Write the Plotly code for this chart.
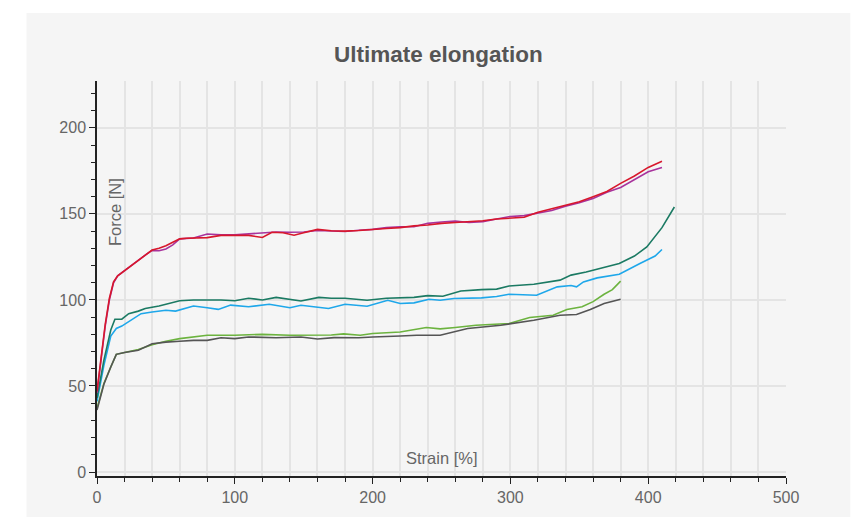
import plotly.graph_objects as go

# ---- data ----
red_x = [0, 3, 6, 9, 12, 15, 20, 25, 30, 35, 40, 45, 50, 55, 60, 65, 70, 80, 90, 100, 110, 120, 127, 135, 143, 150, 160, 170, 180, 190, 200, 210, 220, 230, 240, 250, 260, 270, 280, 290, 300, 310, 320, 330, 336, 350, 360, 370, 380, 390, 400, 410]
red_y = [47, 67, 86, 101, 110.5, 114, 117, 120.5, 123, 126, 129, 130, 131.5, 133.5, 135.5, 135.8, 136, 136.2, 137.5, 137.5, 137.5, 136.3, 139.3, 139.0, 137.6, 139, 141, 140.2, 140, 140.3, 140.7, 141.5, 142, 143, 143.5, 144.5, 145, 145.5, 146, 147, 147.5, 148, 151, 153, 154.1, 157, 160, 163, 167.7, 172, 177, 180.6]

mag_x = [0, 3, 6, 9, 12, 15, 20, 25, 30, 35, 40, 45, 50, 55, 60, 70, 80, 90, 100, 110, 120, 130, 140, 150, 160, 170, 180, 190, 200, 210, 220, 230, 240, 250, 260, 270, 280, 290, 300, 310, 320, 330, 340, 350, 360, 370, 380, 390, 400, 410]
mag_y = [46, 66, 85, 100, 110, 114, 117, 120.5, 123, 126, 128.8, 128.6, 129.6, 132, 135.5, 136, 138.3, 137.8, 137.8, 138.5, 139, 139.5, 139.3, 139.5, 140.3, 140, 139.8, 140.5, 141, 142, 142.5, 142.5, 144.5, 145.3, 145.8, 145, 145.5, 147, 148.5, 149, 150.5, 152, 154.5, 156.5, 159, 162.5, 165.3, 170, 174.5, 177]

teal_x = [0, 5, 10, 13, 18, 23, 30, 35, 45, 60, 70, 90, 100, 110, 120, 130, 148, 161, 170, 180, 196, 210, 230, 240, 251, 264, 279, 290, 299, 317, 336, 344, 355, 365, 379, 390, 399, 410, 419]
teal_y = [43, 65, 82.5, 88.8, 88.8, 92, 93.5, 95, 96.5, 99.5, 100, 100, 99.5, 101, 100, 101.5, 99.4, 101.5, 101, 101, 99.8, 101, 101.5, 102.5, 102.1, 105.2, 106, 106.3, 108.1, 109.1, 111.5, 114.4, 116.2, 118.3, 121.2, 125.5, 130.8, 142, 154]

blue_x = [0, 5, 10, 14, 18, 23, 32, 40, 50, 57, 70, 80, 88, 97, 110, 125, 140, 148, 160, 168, 180, 196, 211, 220, 230, 241, 249, 259, 279, 290, 299, 319, 334, 344, 348, 353, 363, 379, 394, 405, 410]
blue_y = [41, 62, 79, 83.4, 84.8, 87.5, 92, 93, 94, 93.5, 96.5, 95.5, 94.5, 97, 96, 97.5, 95.5, 96.9, 95.5, 95, 97.5, 96.3, 99.8, 97.9, 98.3, 100.4, 99.8, 100.8, 101.2, 102, 103.3, 102.7, 107.6, 108.4, 107.6, 110.5, 112.8, 114.9, 121.2, 125.5, 129.3]

green_x = [0, 5, 10, 14, 20, 30, 40, 50, 60, 75, 80, 100, 120, 140, 148, 170, 179, 191, 200, 220, 239, 249, 260, 275, 299, 314, 331, 341, 352, 360, 368, 374, 380]
green_y = [37, 51.5, 61, 68.4, 69.5, 71.2, 74, 76, 77.5, 79, 79.5, 79.5, 80, 79.5, 79.5, 79.6, 80.3, 79.5, 80.5, 81.4, 84, 83.2, 84, 85.3, 86.3, 89.8, 91.1, 94.4, 96, 99, 103.3, 106, 110.9]

gray_x = [0, 5, 10, 14, 20, 30, 40, 50, 60, 70, 80, 90, 100, 110, 130, 140, 148, 160, 172, 190, 200, 220, 232, 249, 269, 293, 317, 336, 348, 358, 368, 380]
gray_y = [36, 51, 61, 68.4, 69.5, 70.8, 74.5, 75.5, 76, 76.5, 76.5, 78, 77.5, 78.5, 78, 78.5, 78.5, 77.3, 78.1, 78, 78.5, 79, 79.5, 79.5, 83.4, 85.3, 88.2, 91.1, 91.5, 94.5, 97.9, 100.4]

series = [
    ("Sample 6", gray_x, gray_y, "#555555"),
    ("Sample 5", green_x, green_y, "#6cb33f"),
    ("Sample 4", blue_x, blue_y, "#1ea7ea"),
    ("Sample 3", teal_x, teal_y, "#1b7a63"),
    ("Sample 2", mag_x, mag_y, "#a8339c"),
    ("Sample 1", red_x, red_y, "#d8172c"),
]

x_ticks = [0, 100, 200, 300, 400, 500]
y_ticks = [0, 50, 100, 150, 200]

TITLE = "Ultimate elongation"
X_LABEL = "Strain [%]"
Y_LABEL = "Force [N]"

fig = go.Figure()
# draw order: green under gray at start, red on top
order = [1, 0, 2, 3, 4, 5]
for i in order:
    name, xs, ys, col = series[i]
    fig.add_trace(go.Scatter(x=xs, y=ys, mode="lines", name=name,
                             line=dict(color=col, width=1.6), showlegend=False))

FONT = "Liberation Sans, Arial, Helvetica, sans-serif"
GRID = "#e4e4e4"

# page body has a default 8px margin, so the margins are shifted by 8px
fig.update_layout(
    width=863, height=517,
    margin=dict(l=88.5, r=85.3, t=73, b=49.3, pad=0),
    paper_bgcolor="white",
    plot_bgcolor="#f5f5f5",
    font=dict(family=FONT, color="#666666", size=16),
    showlegend=False,
    xaxis=dict(
        range=[0, 500], tickvals=x_ticks, ticks="outside", ticklen=6, tickwidth=1.3,
        tickcolor="#222222", showline=True, linecolor="#222222", linewidth=1.5,
        showgrid=True, gridcolor=GRID, gridwidth=1.5, zeroline=False,
        tickfont=dict(size=16, color="#666666"),
        minor=dict(dtick=20, tick0=0, ticks="outside", ticklen=4, tickcolor="#222222",
                   tickwidth=1.3, showgrid=True, gridcolor=GRID, gridwidth=1.5),
    ),
    yaxis=dict(
        range=[-2.3, 227.2], tickvals=y_ticks, ticks="outside", ticklen=6, tickwidth=1.3,
        tickcolor="#222222", showline=True, linecolor="#222222", linewidth=1.5,
        showgrid=True, gridcolor=GRID, gridwidth=1.5, zeroline=False,
        tickfont=dict(size=16, color="#666666"),
        minor=dict(dtick=10, tick0=0, ticks="outside", ticklen=4, tickcolor="#222222",
                   tickwidth=1.3, showgrid=False),
    ),
    shapes=[dict(type="rect", xref="paper", yref="paper",
                 x0=-0.1023, x1=1.0933, y0=-0.2, y1=1.172,
                 fillcolor="#f5f5f5", line=dict(width=0), layer="below")],
    annotations=[
        dict(text="<b>" + TITLE + "</b>", xref="paper", yref="paper", x=0.4955, y=1.066,
             showarrow=False, xanchor="center", yanchor="middle",
             font=dict(size=22.5, color="#555555", family=FONT)),
        dict(text=X_LABEL, xref="paper", yref="paper", x=0.5, y=0.045,
             showarrow=False, xanchor="center", yanchor="middle",
             font=dict(size=16.5, color="#666666", family=FONT)),
        dict(text=Y_LABEL, xref="paper", yref="paper", x=0.026, y=0.668, textangle=-90,
             showarrow=False, xanchor="center", yanchor="middle",
             font=dict(size=16.5, color="#666666", family=FONT)),
    ],
)

fig.write_html("out.html")
